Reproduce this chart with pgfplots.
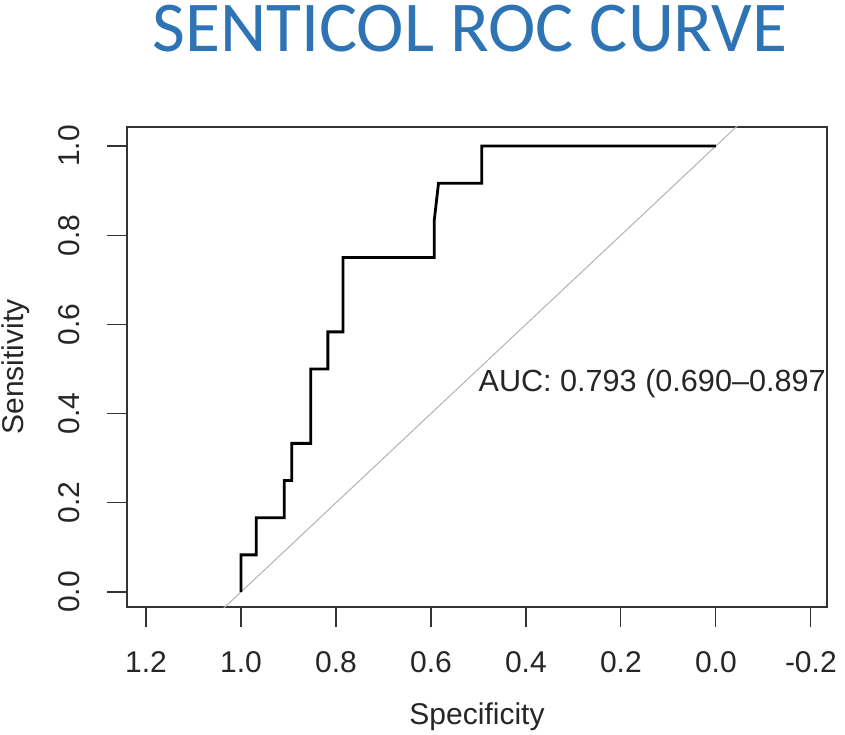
\documentclass[border=0pt]{standalone}
\usepackage{pgfplots}
\pgfplotsset{compat=1.18}
\usepackage{fontspec}
\setmainfont{Liberation Sans}
\newfontfamily\titlefont{Carlito}
\definecolor{titleblue}{RGB}{46,116,181}
\begin{document}
\begin{tikzpicture}
\useasboundingbox (-127pt,-127pt) rectangle (718pt,607pt);
\begin{axis}[
  at={(0,0)}, anchor=south west,
  scale only axis, width=700pt, height=480pt,
  x dir=reverse,
  xmin=-0.234, xmax=1.24, ymin=-0.0336, ymax=1.0426,
  xtick={-0.2,0,0.2,0.4,0.6,0.8,1.0,1.2},
  xticklabels={-0.2,0.0,0.2,0.4,0.6,0.8,1.0,1.2},
  ytick={0,0.2,0.4,0.6,0.8,1.0},
  yticklabels={0.0,0.2,0.4,0.6,0.8,1.0},
  xtick pos=bottom, ytick pos=left,
  tick align=outside, major tick length=20pt,
  tick style={line width=1.2pt, color=black!80},
  axis line style={line width=1.2pt, black!80},
  ticklabel style={font=\fontsize{30}{36}\selectfont, text=black!85},
  xticklabel style={anchor=center, yshift=-35pt},
  yticklabel style={rotate=90, anchor=center, yshift=38pt},
  xlabel={Specificity}, ylabel={Sensitivity},
  label style={font=\fontsize{30}{36}\selectfont, text=black!85},
  xlabel style={at={(axis description cs:0.5,0)}, anchor=center, yshift=-110pt},
  ylabel style={at={(axis description cs:0,0.5)}, anchor=center, yshift=111pt},
]
\addplot[black!30, line width=1pt] coordinates {(1.2,-0.2) (-0.2,1.2)};
\addplot[black, line width=2.8pt, line join=miter] coordinates {
(1.0,0) (1.0,0.0833) (0.968,0.0833) (0.968,0.1667) (0.909,0.1667) (0.909,0.25)
(0.893,0.25) (0.893,0.3333) (0.853,0.3333) (0.853,0.5) (0.817,0.5) (0.817,0.5833)
(0.785,0.5833) (0.785,0.75) (0.593,0.75) (0.593,0.8333) (0.584,0.9167) (0.493,0.9167)
(0.493,1.0) (0.0,1.0)};
\begin{scope}
\clip (rel axis cs:0,0) rectangle (rel axis cs:1,1);
\node[anchor=north west, inner sep=0pt, font=\fontsize{30.6}{36}\selectfont, text=black!85] at (axis cs:0.5,0.5) {AUC: 0.793 (0.690–0.897)};
\end{scope}
\end{axis}
\node[anchor=base, inner sep=0pt, font=\titlefont\fontsize{71.5}{80}\selectfont, text=titleblue] at (343pt,555pt) {SENTICOL ROC CURVE};
\end{tikzpicture}
\end{document}
